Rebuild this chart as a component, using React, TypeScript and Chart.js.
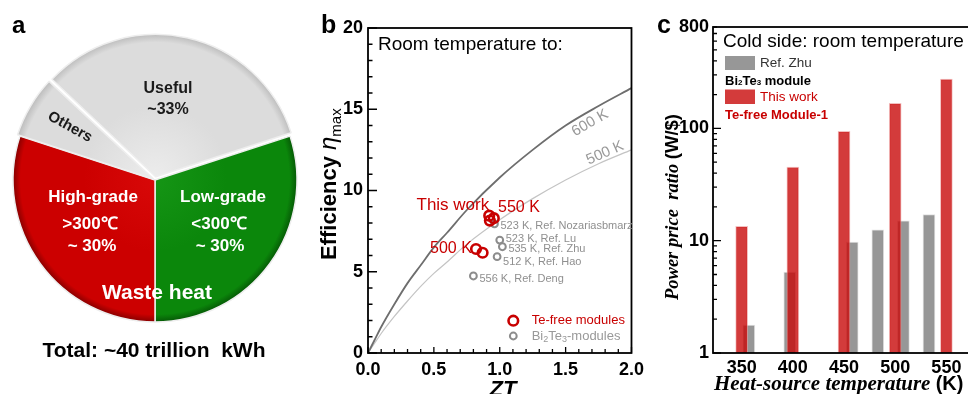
import React, { useEffect, useRef } from 'react';
import { Chart, registerables } from 'chart.js';

Chart.register(...registerables);

const FONT = 'Arial, "Liberation Sans", Helvetica, sans-serif';
const SERIF = '"Liberation Serif", "Times New Roman", Times, serif';

// ---------- Panel a: energy pie ----------
const PIE_LABELS = ['Low-grade', 'High-grade', 'Others', 'Useful'];
const PIE_VALUES = [30, 30, 7, 33];

// ---------- Panel b: efficiency vs ZT ----------
const ZT_GRID = [0, 0.05, 0.1, 0.2, 0.3, 0.4, 0.5, 0.6, 0.75, 1.0, 1.25, 1.5, 1.75, 2.0];
const ETA_600K = [0, 0.8, 1.6, 3.0, 4.3, 5.4, 6.5, 7.4, 8.8, 10.8, 12.5, 14.0, 15.2, 16.3];
const ETA_500K = [0, 0.6, 1.2, 2.25, 3.2, 4.1, 4.9, 5.6, 6.7, 8.2, 9.5, 10.65, 11.65, 12.5];
const TEFREE_ZT = [0.92, 0.955, 0.925, 0.82, 0.87];
const TEFREE_ETA = [8.45, 8.3, 8.15, 6.4, 6.17];
const BITE_ZT = [0.96, 1.0, 1.02, 0.98, 0.8];
const BITE_ETA = [7.95, 6.95, 6.54, 5.93, 4.74];
const BITE_LABELS = ['523 K, Ref. Nozariasbmarz', '523 K, Ref. Lu', '535 K, Ref. Zhu', '512 K, Ref. Hao', '556 K, Ref. Deng'];
const B_X_TICKS = [0, 0.5, 1.0, 1.5, 2.0];
const B_Y_TICKS = [0, 5, 10, 15, 20];

// ---------- Panel c: power price ratio ----------
const TEMP_TICKS = [350, 400, 450, 500, 550];
const THIS_WORK_T = [350, 400, 450, 500, 550];
const THIS_WORK_RATIO = [13.4, 45.3, 94, 167, 275];
const ZHU_T = [357, 397, 458, 483, 508, 533];
const ZHU_RATIO = [1.77, 5.25, 9.7, 12.5, 15.0, 17.1];
const C_Y_TICKS = [1, 10, 100, 800];

type Part = { t: string; f: string; dy?: number; c?: string };
function drawParts(ctx: CanvasRenderingContext2D, parts: Part[], x: number, y: number, align: 'left' | 'center' = 'left') {
  let w = 0;
  parts.forEach((p) => { ctx.font = p.f; w += ctx.measureText(p.t).width; });
  let cx = align === 'center' ? x - w / 2 : x;
  const prevAlign = ctx.textAlign;
  ctx.textAlign = 'left';
  parts.forEach((p) => {
    ctx.font = p.f;
    if (p.c) ctx.fillStyle = p.c;
    ctx.fillText(p.t, cx, y + (p.dy || 0));
    cx += ctx.measureText(p.t).width;
  });
  ctx.textAlign = prevAlign;
}

const PIE_COLORS = [
  ['#159515', '#0b870b', '#055205'],
  ['#d80808', '#cc0000', '#7e0000'],
  ['#ececec', '#dcdcdc', '#bcbcbc'],
  ['#ececec', '#dcdcdc', '#bcbcbc'],
];

const pieText = {
  id: 'pieText',
  afterDraw(chart: any) {
    const ctx: CanvasRenderingContext2D = chart.ctx;
    ctx.save();
    ctx.fillStyle = '#000';
    ctx.font = `bold 24px ${FONT}`;
    ctx.textAlign = 'left';
    ctx.textBaseline = 'alphabetic';
    ctx.fillText('a', 12, 33);
    ctx.textAlign = 'center';
    ctx.textBaseline = 'middle';
    ctx.fillStyle = '#1a1a1a';
    ctx.font = `bold 16px ${FONT}`;
    ctx.fillText('Useful', 168, 89);
    ctx.fillText('~33%', 168, 110);
    ctx.save();
    ctx.translate(70, 127);
    ctx.rotate((29 * Math.PI) / 180);
    ctx.font = `bold 15px ${FONT}`;
    ctx.fillText('Others', 0, 0);
    ctx.restore();
    ctx.fillStyle = '#fff';
    ctx.font = `bold 17px ${FONT}`;
    ctx.fillText('High-grade', 93, 197);
    ctx.fillText('>300℃', 90, 224);
    ctx.fillText('~ 30%', 92, 246);
    ctx.fillText('Low-grade', 223, 197);
    ctx.fillText('<300℃', 219, 224);
    ctx.fillText('~ 30%', 220, 246);
    ctx.font = `bold 21px ${FONT}`;
    ctx.fillText('Waste heat', 157, 293);
    ctx.fillStyle = '#000';
    ctx.fillText('Total: ~40 trillion  kWh', 154, 351);
    ctx.restore();
  },
};

const panelBDecor = {
  id: 'panelBDecor',
  afterDraw(chart: any) {
    const ctx: CanvasRenderingContext2D = chart.ctx;
    const a = chart.chartArea;
    const xs = chart.scales.x;
    const ys = chart.scales.y;
    ctx.save();
    ctx.strokeStyle = '#000';
    ctx.lineWidth = 1.8;
    ctx.strokeRect(a.left, a.top, a.right - a.left, a.bottom - a.top);
    ctx.lineWidth = 1.3;
    ctx.beginPath();
    for (let i = 0; i <= 20; i++) {
      const px = xs.getPixelForValue(i / 10);
      const len = i % 5 === 0 ? 6 : 4;
      ctx.moveTo(px, a.bottom);
      ctx.lineTo(px, a.bottom - len);
    }
    for (let i = 0; i <= 20; i++) {
      const py = ys.getPixelForValue(i);
      const len = i % 5 === 0 ? 9 : 4.5;
      ctx.moveTo(a.left, py);
      ctx.lineTo(a.left + len, py);
    }
    ctx.stroke();

    ctx.fillStyle = '#000';
    ctx.textBaseline = 'alphabetic';
    ctx.textAlign = 'left';
    ctx.font = `bold 25px ${FONT}`;
    ctx.fillText('b', 11, 33);

    ctx.font = `19px ${FONT}`;
    ctx.textBaseline = 'middle';
    ctx.fillText('Room temperature to:', 68, 45);

    ctx.save();
    ctx.translate(26, 260);
    ctx.rotate(-Math.PI / 2);
    ctx.textBaseline = 'alphabetic';
    drawParts(ctx, [
      { t: 'Efficiency ', f: `bold 22px ${FONT}` },
      { t: 'η', f: `italic 24px ${FONT}` },
      { t: 'max', f: `15px ${FONT}`, dy: 5 },
    ], 0, 0);
    ctx.restore();

    ctx.textBaseline = 'alphabetic';
    ctx.font = `italic bold 22px ${FONT}`;
    ctx.textAlign = 'center';
    ctx.fillText('ZT', 193, 396);

    ctx.fillStyle = '#999';
    ctx.font = `15px ${FONT}`;
    ctx.textBaseline = 'middle';
    ctx.save();
    ctx.translate(280, 123);
    ctx.rotate((-30 * Math.PI) / 180);
    ctx.fillText('600 K', 0, 0);
    ctx.restore();
    ctx.save();
    ctx.translate(295, 153);
    ctx.rotate((-24 * Math.PI) / 180);
    ctx.fillText('500 K', 0, 0);
    ctx.restore();

    ctx.textAlign = 'left';
    ctx.fillStyle = '#c80000';
    ctx.font = `17px ${FONT}`;
    ctx.fillText('This work', 106.5, 205);
    ctx.font = `16px ${FONT}`;
    ctx.fillText('550 K', 188, 208);
    ctx.fillText('500 K', 120, 249);

    ctx.fillStyle = '#8f8f8f';
    ctx.font = `11px ${FONT}`;
    const dys = [2, -1.5, 2.5, 5, 2.5];
    BITE_LABELS.forEach((lab, i) => {
      const px = xs.getPixelForValue(BITE_ZT[i]);
      const py = ys.getPixelForValue(BITE_ETA[i]);
      ctx.fillText(lab, px + 6, py + dys[i]);
    });

    ctx.lineWidth = 2.6;
    ctx.strokeStyle = '#c80000';
    ctx.beginPath();
    ctx.arc(203.3, 320.7, 4.8, 0, Math.PI * 2);
    ctx.stroke();
    ctx.strokeStyle = '#8c8c8c';
    ctx.lineWidth = 2;
    ctx.beginPath();
    ctx.arc(203.3, 336, 3.4, 0, Math.PI * 2);
    ctx.stroke();
    ctx.fillStyle = '#c80000';
    ctx.font = `13px ${FONT}`;
    ctx.fillText('Te-free modules', 221.7, 320.7);
    ctx.fillStyle = '#999';
    drawParts(ctx, [
      { t: 'Bi', f: `13px ${FONT}` },
      { t: '2', f: `9px ${FONT}`, dy: 4 },
      { t: 'Te', f: `13px ${FONT}` },
      { t: '3', f: `9px ${FONT}`, dy: 4 },
      { t: '-modules', f: `13px ${FONT}` },
    ], 221.7, 336);
    ctx.restore();
  },
};

const panelCDecor = {
  id: 'panelCDecor',
  afterDraw(chart: any) {
    const ctx: CanvasRenderingContext2D = chart.ctx;
    const a = chart.chartArea;
    const ys = chart.scales.y;
    ctx.save();
    ctx.strokeStyle = '#000';
    ctx.lineWidth = 1.8;
    ctx.strokeRect(a.left, a.top, a.right - a.left, a.bottom - a.top);
    ctx.lineWidth = 1.3;
    ctx.beginPath();
    for (let dec = 1; dec <= 100; dec *= 10) {
      for (let m = 1; m <= 9; m++) {
        const v = m * dec;
        if (v > 800) break;
        const py = ys.getPixelForValue(v);
        const len = m === 1 ? 8 : 4;
        ctx.moveTo(a.left, py);
        ctx.lineTo(a.left + len, py);
      }
    }
    ctx.stroke();

    ctx.fillStyle = '#000';
    ctx.textAlign = 'left';
    ctx.textBaseline = 'alphabetic';
    ctx.font = `bold 25px ${FONT}`;
    ctx.fillText('c', 7, 33);

    ctx.save();
    ctx.translate(28, 300);
    ctx.rotate(-Math.PI / 2);
    drawParts(ctx, [
      { t: 'Power price  ratio ', f: `italic bold 18.5px ${SERIF}` },
      { t: '(W/$)', f: `bold 18.5px ${FONT}` },
    ], 0, 0);
    ctx.restore();

    drawParts(ctx, [
      { t: 'Heat-source temperature ', f: `italic bold 21px ${SERIF}` },
      { t: '(K)', f: `bold 20px ${FONT}` },
    ], 64, 390);

    ctx.textBaseline = 'middle';
    ctx.font = `19px ${FONT}`;
    ctx.fillStyle = '#000';
    ctx.fillText('Cold side: room temperature', 73, 42);
    ctx.fillStyle = 'rgba(140,140,140,0.9)';
    ctx.fillRect(75, 56, 30, 14);
    ctx.fillStyle = 'rgba(200,10,10,0.8)';
    ctx.fillRect(75, 89.5, 30, 14.5);
    ctx.fillStyle = '#333';
    ctx.font = `13.5px ${FONT}`;
    ctx.fillText('Ref. Zhu', 110, 63.5);
    ctx.fillStyle = '#000';
    drawParts(ctx, [
      { t: 'Bi', f: `bold 13px ${FONT}` },
      { t: '2', f: `bold 8px ${FONT}`, dy: 2 },
      { t: 'Te', f: `bold 13px ${FONT}` },
      { t: '3', f: `bold 8px ${FONT}`, dy: 2 },
      { t: ' module', f: `bold 13px ${FONT}` },
    ], 75, 81);
    ctx.fillStyle = '#c80000';
    ctx.font = `13.5px ${FONT}`;
    ctx.fillText('This work', 110, 97);
    ctx.font = `bold 13px ${FONT}`;
    ctx.fillText('Te-free Module-1', 75, 115);
    ctx.restore();
  },
};

function ChartCanvas({ left, width, config }: { left: number; width: number; config: () => any }) {
  const ref = useRef<HTMLCanvasElement>(null);
  useEffect(() => {
    const chart = new Chart(ref.current as HTMLCanvasElement, config());
    return () => chart.destroy();
  }, []);
  return (
    <canvas
      ref={ref}
      width={width}
      height={394}
      style={{ position: 'absolute', left, top: 0, width, height: 394 }}
    />
  );
}

const pieConfig = () => ({
  type: 'pie',
  data: {
    labels: PIE_LABELS,
    datasets: [
      {
        data: PIE_VALUES,
        backgroundColor: (c: any) => {
          const cols = PIE_COLORS[c.dataIndex] || PIE_COLORS[0];
          const area = c.chart.chartArea;
          if (!area) return cols[1];
          const cx = (area.left + area.right) / 2;
          const cy = (area.top + area.bottom) / 2;
          const g = c.chart.ctx.createRadialGradient(cx, cy, 0, cx, cy, 143);
          g.addColorStop(0, cols[0]);
          g.addColorStop(0.5, cols[1]);
          g.addColorStop(0.94, cols[1]);
          g.addColorStop(1, cols[2]);
          return g;
        },
        borderColor: '#eeeeee',
        borderWidth: 1.5,
        offset: [0, 0, 7, 13],
      },
    ],
  },
  options: {
    responsive: false,
    animation: false,
    devicePixelRatio: 1,
    events: [],
    rotation: 72,
    radius: 142,
    layout: { padding: { top: 10, bottom: 44, left: 0, right: 0 } },
    plugins: { legend: { display: false }, tooltip: { enabled: false } },
  },
  plugins: [pieText],
});

const tickFont = { family: FONT, size: 18, weight: 'bold' as const };

const effConfig = () => ({
  type: 'scatter',
  data: {
    datasets: [
      {
        label: 'Te-free modules',
        data: TEFREE_ZT.map((x, i) => ({ x, y: TEFREE_ETA[i] })),
        pointRadius: 4.8,
        pointBorderWidth: 2.6,
        borderColor: '#c80000',
        backgroundColor: 'rgba(0,0,0,0)',
        pointBackgroundColor: 'rgba(0,0,0,0)',
        pointBorderColor: '#c80000',
      },
      {
        label: 'Bi2Te3-modules',
        data: BITE_ZT.map((x, i) => ({ x, y: BITE_ETA[i] })),
        pointRadius: 3.4,
        pointBorderWidth: 2,
        borderColor: '#8c8c8c',
        backgroundColor: 'rgba(0,0,0,0)',
        pointBackgroundColor: 'rgba(0,0,0,0)',
        pointBorderColor: '#8c8c8c',
      },
      {
        label: '600 K',
        data: ZT_GRID.map((x, i) => ({ x, y: ETA_600K[i] })),
        showLine: true,
        pointRadius: 0,
        borderColor: '#6e6e6e',
        borderWidth: 1.8,
        cubicInterpolationMode: 'monotone',
      },
      {
        label: '500 K',
        data: ZT_GRID.map((x, i) => ({ x, y: ETA_500K[i] })),
        showLine: true,
        pointRadius: 0,
        borderColor: '#c4c4c4',
        borderWidth: 1.2,
        cubicInterpolationMode: 'monotone',
      },
    ],
  },
  options: {
    responsive: false,
    animation: false,
    devicePixelRatio: 1,
    events: [],
    layout: { padding: { top: 28, right: 15, bottom: 11, left: 0 } },
    plugins: { legend: { display: false }, tooltip: { enabled: false } },
    scales: {
      x: {
        type: 'linear',
        min: 0,
        max: 2,
        afterBuildTicks: (s: any) => { s.ticks = B_X_TICKS.map((v) => ({ value: v })); },
        afterFit: (s: any) => { s.height = 30; },
        ticks: { callback: (v: any) => Number(v).toFixed(1), font: tickFont, color: '#000', padding: 6, maxRotation: 0, autoSkip: false },
        grid: { display: false, drawTicks: false },
        border: { display: false },
      },
      y: {
        type: 'linear',
        min: 0,
        max: 20,
        afterBuildTicks: (s: any) => { s.ticks = B_Y_TICKS.map((v) => ({ value: v })); },
        afterFit: (s: any) => { s.width = 58; },
        ticks: { callback: (v: any) => String(v), font: tickFont, color: '#000', padding: 5, autoSkip: false },
        grid: { display: false, drawTicks: false },
        border: { display: false },
      },
    },
  },
  plugins: [panelBDecor],
});

const barConfig = () => ({
  type: 'bar',
  data: {
    datasets: [
      {
        label: 'This work',
        data: THIS_WORK_T.map((x, i) => ({ x, y: THIS_WORK_RATIO[i] })),
        backgroundColor: 'rgba(200,10,10,0.8)',
        borderColor: 'rgba(235,150,150,0.6)',
        borderWidth: 1,
        barThickness: 12,
        grouped: false,
      },
      {
        label: 'Ref. Zhu',
        data: ZHU_T.map((x, i) => ({ x, y: ZHU_RATIO[i] })),
        backgroundColor: 'rgba(140,140,140,0.9)',
        borderColor: 'rgba(205,205,205,0.6)',
        borderWidth: 1,
        barThickness: 12,
        grouped: false,
      },
    ],
  },
  options: {
    responsive: false,
    animation: false,
    devicePixelRatio: 1,
    events: [],
    layout: { padding: { top: 27, right: 7, bottom: 11, left: 0 } },
    plugins: { legend: { display: false }, tooltip: { enabled: false } },
    scales: {
      x: {
        type: 'linear',
        min: 322,
        max: 576,
        offset: false,
        afterBuildTicks: (s: any) => { s.ticks = TEMP_TICKS.map((v) => ({ value: v })); },
        afterFit: (s: any) => { s.height = 30; },
        ticks: { callback: (v: any) => String(v), font: tickFont, color: '#000', padding: 4, maxRotation: 0, autoSkip: false },
        grid: { display: false, drawTicks: false },
        border: { display: false },
      },
      y: {
        type: 'logarithmic',
        min: 1,
        max: 800,
        afterBuildTicks: (s: any) => { s.ticks = C_Y_TICKS.map((v) => ({ value: v })); },
        afterFit: (s: any) => { s.width = 63; },
        ticks: { callback: (v: any) => String(v), font: tickFont, color: '#000', padding: 4, autoSkip: false },
        grid: { display: false, drawTicks: false },
        border: { display: false },
      },
    },
  },
  plugins: [panelCDecor],
});

export default function App() {
  return (
    <div
      style={{
        position: 'absolute',
        left: 0,
        top: 0,
        width: 968,
        height: 394,
        overflow: 'hidden',
        background: '#fff',
      }}
    >
      <ChartCanvas left={0} width={310} config={pieConfig} />
      <ChartCanvas left={310} width={340} config={effConfig} />
      <ChartCanvas left={650} width={330} config={barConfig} />
    </div>
  );
}
